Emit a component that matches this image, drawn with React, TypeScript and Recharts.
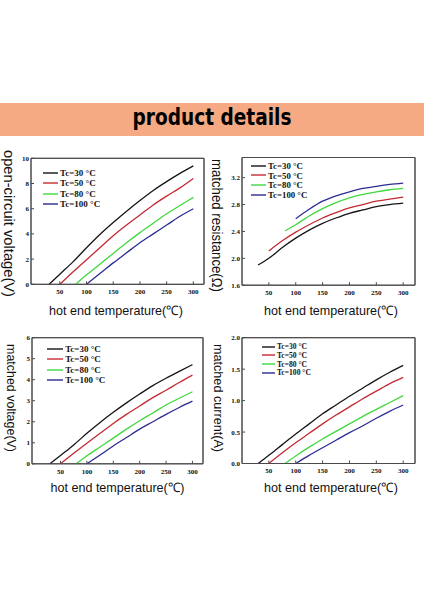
import React from 'react';
import { LineChart, Line, XAxis, YAxis, Legend, ReferenceArea } from 'recharts';

// Hot end temperatures (°C) at which each curve is sampled
const tempsTc30 = [30, 50, 75, 100, 125, 150, 175, 200, 225, 250, 275, 300];
const tempsTc50 = [50, 75, 100, 125, 150, 175, 200, 225, 250, 275, 300];
const tempsTc80 = [80, 100, 125, 150, 175, 200, 225, 250, 275, 300];
const tempsTc100 = [100, 125, 150, 175, 200, 225, 250, 275, 300];

const seriesNames = ['Tc=30 °C', 'Tc=50 °C', 'Tc=80 °C', 'Tc=100 °C'];
const seriesColors = ['#151515', '#c42a32', '#3fd83f', '#2c2c94'];
const xTicks = [50, 100, 150, 200, 250, 300];

// open-circuit voltage (V)
const vocTc30 = [0, 0.8, 1.8, 2.9, 3.95, 4.9, 5.8, 6.65, 7.45, 8.15, 8.8, 9.4];
const vocTc50 = [0, 1.0, 1.95, 2.9, 3.85, 4.7, 5.5, 6.3, 7.0, 7.65, 8.4];
const vocTc80 = [0, 0.75, 1.6, 2.45, 3.3, 4.1, 4.85, 5.6, 6.25, 6.9];
const vocTc100 = [0, 0.85, 1.7, 2.5, 3.3, 4.0, 4.7, 5.4, 6.0];
const vocTicks = [0, 2, 4, 6, 8, 10];

// matched resistance (Ω)
const resTc30 = [1.9, 2.0, 2.16, 2.3, 2.42, 2.52, 2.6, 2.67, 2.72, 2.77, 2.8, 2.82];
const resTc50 = [2.11, 2.26, 2.39, 2.5, 2.6, 2.68, 2.75, 2.8, 2.85, 2.88, 2.91];
const resTc80 = [2.41, 2.5, 2.63, 2.74, 2.83, 2.9, 2.95, 2.99, 3.02, 3.04];
const resTc100 = [2.59, 2.73, 2.85, 2.93, 2.99, 3.04, 3.07, 3.1, 3.12];
const resTicks = [1.6, 2.0, 2.4, 2.8, 3.2];

// matched voltage (V)
const mvTc30 = [0, 0.4, 0.9, 1.45, 1.97, 2.45, 2.9, 3.32, 3.72, 4.07, 4.4, 4.72];
const mvTc50 = [0, 0.5, 0.98, 1.45, 1.92, 2.35, 2.75, 3.15, 3.5, 3.87, 4.22];
const mvTc80 = [0, 0.38, 0.8, 1.22, 1.65, 2.05, 2.42, 2.8, 3.12, 3.43];
const mvTc100 = [0, 0.42, 0.85, 1.25, 1.65, 2.0, 2.35, 2.68, 2.98];
const mvTicks = [0, 1, 2, 3, 4, 5, 6];

// matched current (A)
const mcTc30 = [0, 0.13, 0.3, 0.47, 0.63, 0.79, 0.93, 1.07, 1.2, 1.33, 1.45, 1.56];
const mcTc50 = [0, 0.17, 0.33, 0.48, 0.63, 0.77, 0.9, 1.03, 1.15, 1.27, 1.37];
const mcTc80 = [0, 0.12, 0.26, 0.39, 0.51, 0.63, 0.75, 0.86, 0.97, 1.08];
const mcTc100 = [0, 0.13, 0.25, 0.37, 0.49, 0.6, 0.72, 0.83, 0.93];
const mcTicks = [0, 0.5, 1.0, 1.5, 2.0];

const tempSets = [tempsTc30, tempsTc50, tempsTc80, tempsTc100];
const zip = (xs: number[], ys: number[]) => xs.map((t, i) => ({ t, v: ys[i] }));
const build = (vals: number[][]) => vals.map((ys, i) => zip(tempSets[i], ys));

const tickFont = { fontSize: 7, fontFamily: 'Liberation Serif', fontWeight: 'bold', fill: '#111' };
const axisColor = '#4a4a4a';

type LegendCfg = { left: number; top: number; rowH: number; fontSize: number; lineLen: number };

function LegendBox({ cfg }: { cfg: LegendCfg }) {
  return (
    <div
      style={{
        fontFamily: 'Liberation Serif',
        fontWeight: 'bold',
        fontSize: cfg.fontSize,
        color: '#111',
        whiteSpace: 'nowrap',
      }}
    >
      {seriesNames.map((n, i) => (
        <div key={n} style={{ display: 'flex', alignItems: 'center', height: cfg.rowH }}>
          <svg width={cfg.lineLen} height={4} style={{ display: 'block' }}>
            <line x1={0} y1={2} x2={cfg.lineLen} y2={2} stroke={seriesColors[i]} strokeWidth={1.4} />
          </svg>
          <span style={{ marginLeft: 2 }}>{n}</span>
        </div>
      ))}
    </div>
  );
}

type PanelProps = {
  left: number;
  top: number;
  plotLeft: number;
  plotRight: number;
  plotTop: number;
  plotBottom: number;
  xDomain: [number, number];
  yDomain: [number, number];
  yTicks: number[];
  yFmt: (v: number) => string;
  series: { t: number; v: number }[][];
  legend: LegendCfg;
};

const W = 212;
const H = 150;

function Panel(p: PanelProps) {
  return (
    <div style={{ position: 'absolute', left: p.left, top: p.top, width: W, height: H }}>
      <LineChart width={W} height={H} margin={{ top: p.plotTop - 1, right: W - p.plotRight - 1, bottom: 0, left: 0 }}>
        <XAxis
          xAxisId="b"
          type="number"
          dataKey="t"
          domain={p.xDomain}
          ticks={xTicks}
          height={H - p.plotBottom}
          axisLine={{ stroke: axisColor }}
          tickLine={{ stroke: axisColor }}
          tickSize={-3}
          tickMargin={8}
          tick={tickFont}
          interval={0}
        />
        <XAxis
          xAxisId="tp"
          orientation="top"
          type="number"
          dataKey="t"
          domain={p.xDomain}
          ticks={xTicks}
          height={1}
          axisLine={{ stroke: axisColor }}
          tickLine={{ stroke: axisColor }}
          tickSize={-3}
          tick={false}
          interval={0}
        />
        <YAxis
          yAxisId="l"
          type="number"
          domain={p.yDomain}
          ticks={p.yTicks}
          width={p.plotLeft}
          axisLine={{ stroke: axisColor }}
          tickLine={{ stroke: axisColor }}
          tickSize={-3}
          tickMargin={5}
          tick={tickFont}
          tickFormatter={p.yFmt}
          interval={0}
        />
        <YAxis
          yAxisId="r"
          orientation="right"
          type="number"
          domain={p.yDomain}
          ticks={p.yTicks}
          width={1}
          axisLine={{ stroke: axisColor }}
          tickLine={{ stroke: axisColor }}
          tickSize={-3}
          tick={false}
          interval={0}
        />
        <ReferenceArea
          xAxisId="b"
          yAxisId="l"
          x1={p.xDomain[0]}
          x2={p.xDomain[1]}
          y1={p.yDomain[0]}
          y2={p.yDomain[1]}
          fill="none"
          fillOpacity={0}
          stroke={axisColor}
          strokeWidth={1}
          ifOverflow="visible"
        />
        {p.series.map((d, i) => (
          <Line
            key={seriesNames[i]}
            xAxisId="b"
            yAxisId="l"
            data={d}
            dataKey="v"
            name={seriesNames[i]}
            type="monotone"
            stroke={seriesColors[i]}
            strokeWidth={1.3}
            dot={false}
            activeDot={false}
            isAnimationActive={false}
          />
        ))}
        <Legend
          layout="horizontal"
          verticalAlign="middle"
          align="center"
          wrapperStyle={{ left: p.legend.left, top: p.legend.top, width: 'auto', height: 'auto' }}
          content={() => <LegendBox cfg={p.legend} />}
        />
      </LineChart>
    </div>
  );
}

const fmtInt = (v: number) => String(v);
const fmt1 = (v: number) => v.toFixed(1);

const yLabelFont = { fontFamily: 'Liberation Sans', fill: '#111' };

export default function App() {
  return (
    <div style={{ position: 'absolute', left: 0, top: 0, width: 424, height: 600, background: '#fff', overflow: 'hidden' }}>
      <Panel
        left={0}
        top={150}
        plotLeft={31}
        plotRight={204}
        plotTop={8.3}
        plotBottom={134.3}
        xDomain={[-4, 320]}
        yDomain={[0, 10]}
        yTicks={vocTicks}
        yFmt={fmtInt}
        series={build([vocTc30, vocTc50, vocTc80, vocTc100])}
        legend={{ left: 43, top: 18, rowH: 10.3, fontSize: 9, lineLen: 15 }}
      />
      <Panel
        left={212}
        top={150}
        plotLeft={30}
        plotRight={203}
        plotTop={7.5}
        plotBottom={135.2}
        xDomain={[0, 322]}
        yDomain={[1.6, 3.5]}
        yTicks={resTicks}
        yFmt={fmt1}
        series={build([resTc30, resTc50, resTc80, resTc100])}
        legend={{ left: 39, top: 10.8, rowH: 9.8, fontSize: 8.8, lineLen: 15 }}
      />
      <Panel
        left={0}
        top={330}
        plotLeft={32}
        plotRight={203}
        plotTop={7.7}
        plotBottom={133.8}
        xDomain={[-4, 320]}
        yDomain={[0, 6]}
        yTicks={mvTicks}
        yFmt={fmtInt}
        series={build([mvTc30, mvTc50, mvTc80, mvTc100])}
        legend={{ left: 46.7, top: 14.2, rowH: 10.2, fontSize: 9, lineLen: 16.5 }}
      />
      <Panel
        left={212}
        top={330}
        plotLeft={30}
        plotRight={203}
        plotTop={7.7}
        plotBottom={133.5}
        xDomain={[0, 322]}
        yDomain={[0, 2]}
        yTicks={mcTicks}
        yFmt={fmt1}
        series={build([mcTc30, mcTc50, mcTc80, mcTc100])}
        legend={{ left: 50, top: 12.3, rowH: 8.7, fontSize: 7.6, lineLen: 13 }}
      />
      <svg
        width={424}
        height={600}
        style={{ position: 'absolute', left: 0, top: 0, pointerEvents: 'none' }}
      >
        <rect x={0} y={103} width={424} height={33} fill="#F6AA84" />
        <text
          x={212}
          y={125}
          textAnchor="middle"
          fontFamily="DejaVu Sans"
          fontWeight="bold"
          fontSize={23}
          textLength={159}
          lengthAdjust="spacingAndGlyphs"
          fill="#000"
        >
          product details
        </text>

        <text transform="translate(4,223.5) rotate(90)" textAnchor="middle" fontSize={14.5} textLength={147} lengthAdjust="spacingAndGlyphs" {...yLabelFont}>
          open-circuit voltage(V)
        </text>
        <text transform="translate(211.5,225.5) rotate(90)" textAnchor="middle" fontSize={14.5} textLength={133} lengthAdjust="spacingAndGlyphs" {...yLabelFont}>
          matched resistance(Ω)
        </text>
        <text transform="translate(6.5,398) rotate(90)" textAnchor="middle" fontSize={13.5} textLength={108} lengthAdjust="spacingAndGlyphs" {...yLabelFont}>
          matched voltage(V)
        </text>
        <text transform="translate(213.5,398) rotate(90)" textAnchor="middle" fontSize={13.5} textLength={108} lengthAdjust="spacingAndGlyphs" {...yLabelFont}>
          matched current(A)
        </text>

        <text x={116} y={314.5} textAnchor="middle" fontSize={13} textLength={134} lengthAdjust="spacingAndGlyphs" {...yLabelFont}>
          hot end temperature(℃)
        </text>
        <text x={331} y={315} textAnchor="middle" fontSize={13} textLength={134} lengthAdjust="spacingAndGlyphs" {...yLabelFont}>
          hot end temperature(℃)
        </text>
        <text x={117.5} y={491.5} textAnchor="middle" fontSize={13} textLength={134} lengthAdjust="spacingAndGlyphs" {...yLabelFont}>
          hot end temperature(℃)
        </text>
        <text x={331} y={491.5} textAnchor="middle" fontSize={13} textLength={134} lengthAdjust="spacingAndGlyphs" {...yLabelFont}>
          hot end temperature(℃)
        </text>
      </svg>
    </div>
  );
}
